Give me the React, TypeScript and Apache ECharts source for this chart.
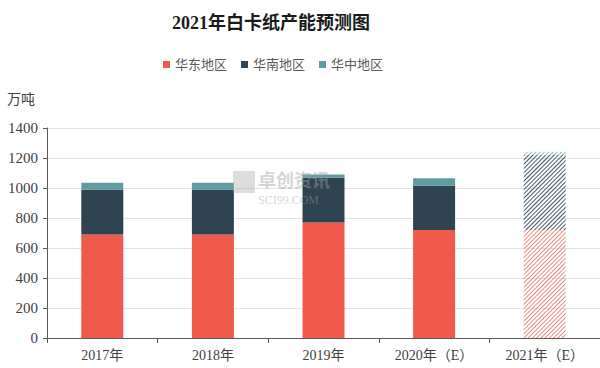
import React, { useEffect, useRef } from "react";
import * as echarts from "echarts";

const categories = ["2017年", "2018年", "2019年", "2020年（E）", "2021年（E）"];
const eastValues = [690, 690, 770, 720, 720];
const southValues = [300, 300, 300, 295, 500];
const centralValues = [45, 45, 20, 50, 22];
const seriesNames = ["华东地区", "华南地区", "华中地区"];
const colors = ["#F05A4A", "#2E4453", "#5E9CA2"];
const hatchColors = ["#F08A80", "#44586A", "#8CBFC6"];
const forecastIndex = 4;

const SERIF = "'Liberation Serif', 'Noto Sans CJK SC', serif";

function buildData(values: number[], idx: number) {
  return values.map((v, i) =>
    i === forecastIndex
      ? {
          value: v,
          itemStyle: {
            color: "rgba(255,255,255,0)",
            decal: {
              symbol: "rect",
              symbolSize: 1,
              color: hatchColors[idx],
              dashArrayX: [1, 0],
              dashArrayY: [1, 2],
              rotation: -Math.PI / 4,
            },
          },
        }
      : v
  );
}

export default function App() {
  const ref = useRef<HTMLDivElement>(null);
  useEffect(() => {
    if (!ref.current) return;
    const chart = echarts.init(ref.current, undefined, { renderer: "svg" });
    const all = [eastValues, southValues, centralValues];
    chart.setOption({
      animation: false,
      backgroundColor: "#fff",
      title: {
        text: "2021年白卡纸产能预测图",
        left: 167,
        top: 9,
        textStyle: { fontFamily: SERIF, fontSize: 18, fontWeight: "bold", color: "#1a1a1a" },
      },
      legend: {
        data: seriesNames,
        left: 158,
        top: 53,
        icon: "rect",
        itemWidth: 7,
        itemHeight: 7,
        itemGap: 14,
        textStyle: { fontFamily: SERIF, fontSize: 13, color: "#595959" },
      },
      grid: { left: 47, right: 0, top: 128, bottom: 30, containLabel: false },
      xAxis: {
        type: "category",
        data: categories,
        boundaryGap: true,
        axisLine: { lineStyle: { color: "#595959", width: 1 } },
        axisTick: { show: true, length: 5, lineStyle: { color: "#595959" } },
        axisLabel: { fontFamily: SERIF, fontSize: 14, color: "#404040", margin: 10 },
      },
      yAxis: {
        type: "value",
        min: 0,
        max: 1400,
        interval: 200,
        name: "万吨",
        nameLocation: "end",
        nameGap: 22,
        nameTextStyle: { fontFamily: SERIF, fontSize: 14, color: "#404040", align: "right", padding: [0, 12, 0, 0] },
        axisLine: { show: true, lineStyle: { color: "#595959" } },
        axisTick: { show: true, length: 4, lineStyle: { color: "#595959" } },
        axisLabel: {
          fontFamily: SERIF,
          fontSize: 15,
          color: "#404040",
          margin: 9,
          formatter: (v: number) => String(v),
        },
        splitLine: { lineStyle: { color: "#e3e3e3" } },
      },
      series: seriesNames.map((name, idx) => ({
        name,
        type: "bar",
        stack: "total",
        barWidth: 42,
        itemStyle: { color: colors[idx] },
        data: buildData(all[idx], idx),
      })),
      graphic: [
        {
          type: "text",
          left: 258,
          top: 170,
          z: 100,
          style: { text: "卓创资讯", fontFamily: "'Noto Sans CJK SC'", fontSize: 18, fontWeight: "bold", fill: "rgba(160,160,160,0.45)" },
        },
        {
          type: "text",
          left: 258,
          top: 194,
          z: 100,
          style: { text: "SCI99.COM", fontFamily: SERIF, fontSize: 12, fill: "rgba(160,160,160,0.45)" },
        },
        {
          type: "rect",
          shape: { x: 233, y: 171, width: 22, height: 22 },
          z: 100,
          style: { fill: "rgba(170,170,170,0.4)" },
        },
      ],
    });
    return () => chart.dispose();
  }, []);
  return <div ref={ref} style={{ width: 600, height: 368, position: "absolute", left: 0, top: 0 }} />;
}
